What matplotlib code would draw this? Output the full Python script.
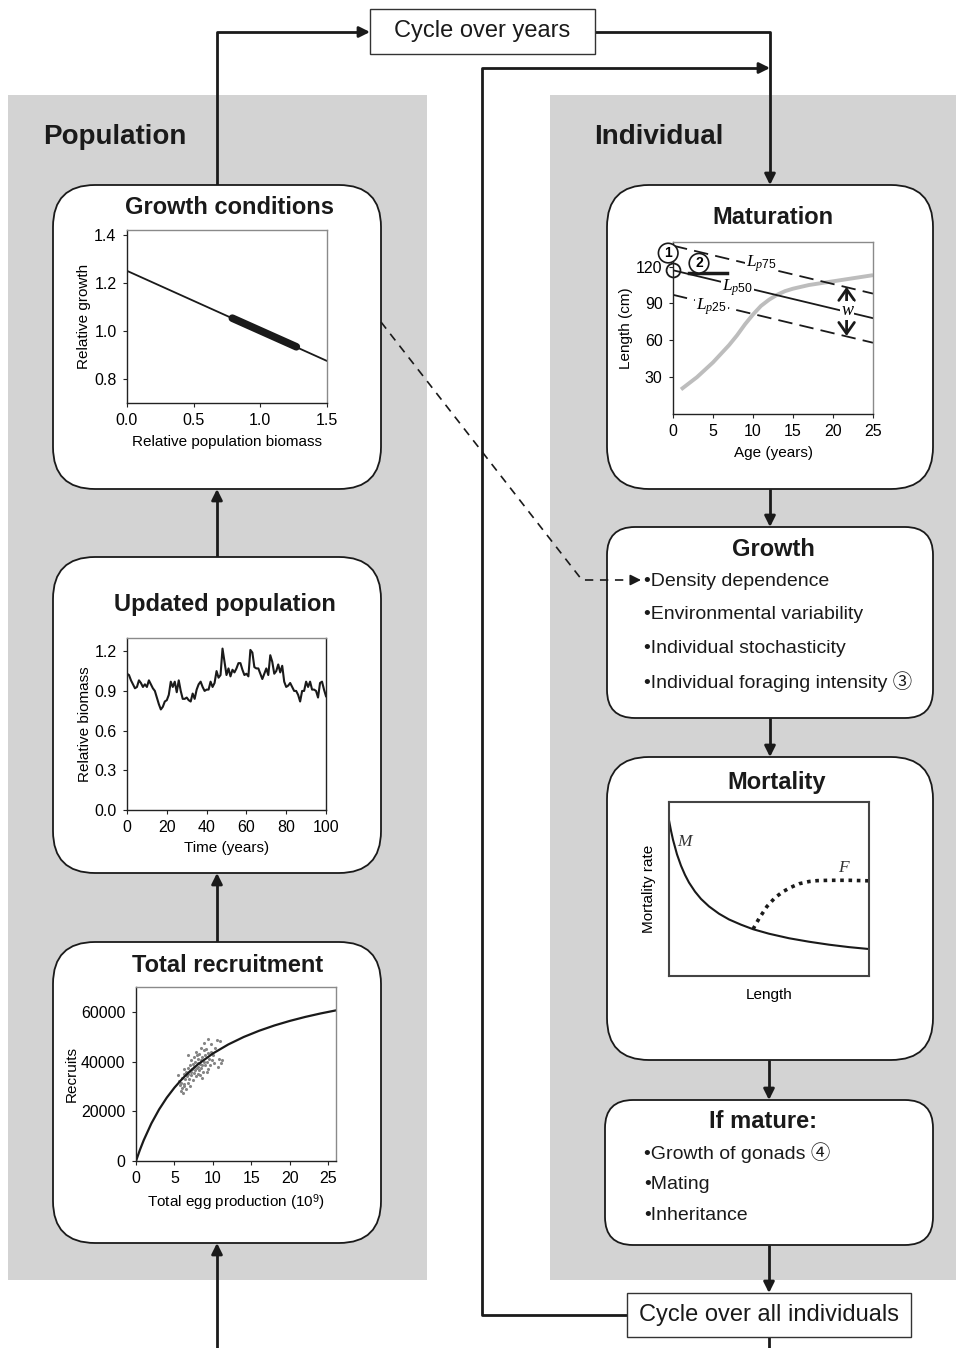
import numpy as np
import matplotlib
matplotlib.use('Agg')
import matplotlib.pyplot as plt
from matplotlib.patches import FancyBboxPatch, Rectangle

plt.rcParams['font.family'] = ['Liberation Sans', 'Noto Sans CJK SC', 'DejaVu Sans']
plt.rcParams['mathtext.fontset'] = 'custom'
plt.rcParams['mathtext.rm'] = 'Liberation Sans'
plt.rcParams['mathtext.it'] = 'Liberation Serif:italic'

# ---- data ----
# growth conditions
gc_biomass = [0.0, 1.5]
gc_growth = [1.25, 0.875]
gc_obs_biomass = [0.79, 1.27]
gc_obs_growth = [1.053, 0.934]

# updated population (relative biomass per year, 0..100)
biomass = [1.03, 1.02, 0.98, 0.95, 0.92, 0.93, 0.98, 0.96, 0.93, 0.95,
           0.93, 0.98, 0.95, 0.92, 0.90, 0.85, 0.80, 0.76, 0.78, 0.82,
           0.83, 0.87, 0.97, 0.93, 0.97, 0.89, 0.98, 0.90, 0.84, 0.84,
           0.85, 0.83, 0.82, 0.88, 0.84, 0.91, 0.95, 0.97, 0.93, 0.90,
           0.91, 0.91, 0.97, 0.93, 0.96, 1.05, 1.00, 1.02, 1.22, 1.12,
           1.02, 1.07, 1.01, 1.06, 1.04, 1.07, 1.11, 1.11, 1.06, 1.02,
           1.03, 1.01, 1.21, 1.19, 1.08, 1.07, 1.07, 1.03, 0.99, 1.03,
           1.07, 1.02, 1.17, 1.12, 1.03, 1.05, 1.10, 1.04, 1.09, 0.97,
           0.93, 0.94, 0.96, 0.93, 0.90, 0.90, 0.87, 0.82, 0.90, 0.90,
           0.97, 0.93, 0.97, 0.91, 0.91, 0.90, 0.85, 0.96, 0.97, 0.91,
           0.86]
years = np.arange(len(biomass))

# total recruitment curve
egg_curve = [0, 0.5, 1, 2, 3, 4, 5, 6, 7, 8, 10, 12, 14, 16, 18, 20, 22, 24, 26]
rec_curve = [0, 4400, 8340, 15120, 20740, 25480, 29520, 33020, 36070, 38750,
             43260, 46890, 49890, 52390, 54530, 56360, 57960, 59360, 60600]
# observed egg production / recruits
egg_obs = [5.4, 5.6, 5.7, 5.8, 5.9, 6.0, 6.0, 6.1, 6.2, 6.2, 6.3, 6.4, 6.5, 6.5,
           6.6, 6.7, 6.7, 6.8, 6.8, 6.9, 7.0, 7.0, 7.1, 7.2, 7.2, 7.3, 7.4, 7.4,
           7.5, 7.5, 7.6, 7.7, 7.7, 7.8, 7.8, 7.9, 8.0, 8.0, 8.1, 8.1, 8.2, 8.2,
           8.3, 8.3, 8.4, 8.5, 8.5, 8.6, 8.6, 8.7, 8.8, 8.8, 8.9, 9.0, 9.0, 9.1,
           9.2, 9.3, 9.3, 9.4, 9.5, 9.6, 9.7, 9.8, 9.9, 10.0, 10.2, 10.3, 10.5,
           10.6, 10.8, 10.9, 11.0, 11.2, 6.3, 7.9, 8.6, 9.2]
rec_obs = [34500, 32000, 30500, 28000, 31500, 29500, 33500, 27500, 30000, 35000,
           31000, 33000, 29000, 36000, 34000, 31500, 37500, 35000, 42500, 33000,
           38500, 30000, 36000, 40500, 34500, 37000, 32500, 39000, 35500, 42000,
           38000, 36500, 40000, 34000, 44000, 37500, 39500, 35000, 41000, 38000,
           36500, 43000, 39000, 34500, 40500, 37500, 45500, 42000, 38500, 36000,
           44500, 40000, 47500, 38500, 42500, 45000, 40000, 37000, 43500, 49200,
           41000, 38500, 44000, 47000, 40500, 42500, 39500, 45500, 48800, 38000,
           41000, 48400, 39500, 40500, 37000, 42500, 33500, 36000]

# maturation
age_line = [0, 25]
lp75 = [137, 98]
lp50 = [117, 78]
lp25 = [97, 58]
age_growth = [1, 2, 3, 4, 5, 6, 7, 8, 9, 10, 11, 12, 13, 14, 15, 17, 20, 25]
len_growth = [20, 25, 30, 36, 42, 49, 56, 64, 73, 81, 88, 93, 97, 100, 102, 105, 108, 113]

# mortality (arbitrary units)
m_len = [0, 0.01, 0.02, 0.04, 0.06, 0.08, 0.1, 0.13, 0.16, 0.2, 0.25, 0.3, 0.36, 0.42,
         0.5, 0.6, 0.7, 0.8, 0.9, 1.0]
m_rate = [0.895, 0.835, 0.783, 0.699, 0.634, 0.581, 0.537, 0.485, 0.443, 0.400,
          0.358, 0.325, 0.295, 0.269, 0.243, 0.217, 0.197, 0.180, 0.166, 0.155]
f_len = [0.42, 0.45, 0.49, 0.53, 0.57, 0.61, 0.65, 0.70, 0.74, 0.8, 0.9, 1.0]
f_rate = [0.269, 0.33, 0.40, 0.45, 0.485, 0.51, 0.53, 0.543, 0.548, 0.55, 0.55, 0.547]

growth_items = ['Density dependence', 'Environmental variability',
                'Individual stochasticity', 'Individual foraging intensity \u2462']
mature_items = ['Growth of gonads \u2463', 'Mating', 'Inheritance']

# ---- canvas ----
W, H = 956, 1348
fig = plt.figure(figsize=(W / 100, H / 100), dpi=100)
bg = fig.add_axes([0, 0, 1, 1])
bg.set_xlim(0, W)
bg.set_ylim(H, 0)
bg.axis('off')

GRAY = '#d3d3d3'
INK = '#1a1a1a'

bg.add_patch(Rectangle((8, 95), 419, 1185, fc=GRAY, ec='none', zorder=0))
bg.add_patch(Rectangle((550, 95), 406, 1185, fc=GRAY, ec='none', zorder=0))
bg.text(43, 137, 'Population', fontsize=20, fontweight='bold', va='center', color=INK)
bg.text(594, 137, 'Individual', fontsize=20, fontweight='bold', va='center', color=INK)


def box(x0, y0, x1, y1, r):
    bg.add_patch(FancyBboxPatch((x0, y0), x1 - x0, y1 - y0,
                                boxstyle=f'round,pad=0,rounding_size={r}',
                                fc='white', ec=INK, lw=1.3, zorder=2))


def arrow(pts, lw=2.0, ls='-', z=1):
    pts = [np.array(p, float) for p in pts]
    end, prev = pts[-1], pts[-2]
    d = (end - prev) / np.linalg.norm(end - prev)
    stop = end - d * 10
    line = pts[:-1] + [stop]
    xs = [p[0] for p in line]
    ys = [p[1] for p in line]
    bg.plot(xs, ys, color=INK, lw=lw, ls=ls, zorder=z, solid_capstyle='butt')
    bg.annotate('', xy=end, xytext=stop,
                arrowprops=dict(arrowstyle='-|>', color=INK, lw=lw,
                                mutation_scale=16, shrinkA=0, shrinkB=0), zorder=z + 2)


# flow arrows
arrow([(217, 185), (217, 32), (370, 32)])
arrow([(595, 32), (770, 32), (770, 185)])
arrow([(627, 1315), (482, 1315), (482, 68), (770, 68)])
arrow([(770, 489), (770, 527)])
arrow([(770, 718), (770, 757)])
arrow([(769, 1060), (769, 1100)])
arrow([(769, 1245), (769, 1293)])
bg.plot([769, 769], [1337, 1348], color=INK, lw=2.0, zorder=1)
arrow([(217, 1348), (217, 1243)])
arrow([(217, 942), (217, 873)])
arrow([(217, 557), (217, 489)])
arrow([(381, 322), (582, 580), (641, 580)], lw=1.2, ls=(0, (5, 4)), z=3)

# boxes
box(53, 185, 381, 489, 42)
box(53, 557, 381, 873, 42)
box(53, 942, 381, 1243, 42)
box(607, 185, 933, 489, 42)
box(607, 527, 933, 718, 28)
box(607, 757, 933, 1060, 42)
box(605, 1100, 933, 1245, 28)

bg.add_patch(Rectangle((370, 9), 225, 45, fc='white', ec='#333333', lw=1.0, zorder=2))
bg.text(482, 31, 'Cycle over years', fontsize=17, ha='center', va='center', color=INK, zorder=4)
bg.add_patch(Rectangle((627, 1293), 284, 44, fc='white', ec='#333333', lw=1.0, zorder=2))
bg.text(769, 1315, 'Cycle over all individuals', fontsize=17, ha='center', va='center',
        color=INK, zorder=4)

# titles
tkw = dict(fontsize=17, fontweight='bold', ha='center', va='center', color=INK, zorder=4)
bg.text(230, 207, 'Growth conditions', **tkw)
bg.text(225, 604, 'Updated population', **tkw)
bg.text(228, 966, 'Total recruitment', **tkw)
bg.text(773, 218, 'Maturation', **tkw)
bg.text(773, 550, 'Growth', **tkw)
bg.text(777, 782, 'Mortality', **tkw)
bg.text(763, 1122, 'If mature:', **tkw)

for i, item in enumerate(growth_items):
    bg.text(644, 581 + i * 33.7, '\u2022' + item, fontsize=14, va='center', color=INK, zorder=4)
for i, item in enumerate(mature_items):
    bg.text(644, 1153 + i * 31.5, '\u2022' + item, fontsize=14, va='center', color=INK, zorder=4)


def inset(l, t, r, b):
    return fig.add_axes([l / W, 1 - b / H, (r - l) / W, (b - t) / H])


def style(ax, light=('top', 'right')):
    for s in ax.spines.values():
        s.set_color('#222222')
        s.set_linewidth(1.0)
    for s in light:
        ax.spines[s].set_color('#8a8a8a')
    ax.tick_params(length=3, width=0.8, labelsize=11.5, color='#222222', pad=4.5)


# growth conditions panel
ax1 = inset(127, 230, 327, 403)
ax1.plot(gc_biomass, gc_growth, color=INK, lw=1.3)
ax1.plot(gc_obs_biomass, gc_obs_growth, color=INK, lw=5.5, solid_capstyle='round')
ax1.set_xlim(0, 1.5)
ax1.set_ylim(0.7, 1.42)
ax1.set_xticks([0, 0.5, 1.0, 1.5])
ax1.set_xticklabels(['0.0', '0.5', '1.0', '1.5'])
ax1.set_yticks([0.8, 1.0, 1.2, 1.4])
ax1.set_yticklabels(['0.8', '1.0', '1.2', '1.4'])
ax1.set_xlabel('Relative population biomass', fontsize=11, labelpad=5)
ax1.set_ylabel('Relative growth', fontsize=11, labelpad=2)
style(ax1)

# updated population panel
ax2 = inset(127, 638, 326, 810)
ax2.plot(years, biomass, color=INK, lw=1.5)
ax2.set_xlim(0, 100)
ax2.set_ylim(0, 1.3)
ax2.set_xticks([0, 20, 40, 60, 80, 100])
ax2.set_yticks([0, 0.3, 0.6, 0.9, 1.2])
ax2.set_yticklabels(['0.0', '0.3', '0.6', '0.9', '1.2'])
ax2.set_xlabel('Time (years)', fontsize=11, labelpad=4)
ax2.set_ylabel('Relative biomass', fontsize=11, labelpad=2)
style(ax2, light=('top',))

# total recruitment panel
ax3 = inset(136, 987, 336, 1161)
ax3.scatter(egg_obs, rec_obs, s=5, color='#858585', lw=0)
ax3.plot(egg_curve, rec_curve, color=INK, lw=1.6)
ax3.set_xlim(0, 26)
ax3.set_ylim(0, 70000)
ax3.set_xticks([0, 5, 10, 15, 20, 25])
ax3.set_yticks([0, 20000, 40000, 60000])
ax3.set_xlabel('Total egg production (10$^{9}$)', fontsize=11, labelpad=4)
ax3.set_ylabel('Recruits', fontsize=11, labelpad=2)
style(ax3)

# maturation panel
ax4 = inset(673, 242, 873, 414)
dash = (0, (8, 4))
ax4.plot(age_growth, len_growth, color='#bdbdbd', lw=2.8, solid_capstyle='butt')
ax4.plot(age_line, lp75, color=INK, lw=1.3, ls=dash)
ax4.plot(age_line, lp50, color=INK, lw=1.3)
ax4.plot(age_line, lp25, color=INK, lw=1.3, ls=dash)
ax4.plot([2.0, 6.7], [114.5, 114.5], color=INK, lw=2.5)
ax4.plot([0], [117], 'o', ms=10, mfc='none', mec=INK, mew=1.3, clip_on=False)
circ = dict(boxstyle='circle,pad=0.2', fc='white', ec=INK, lw=1.2)
ax4.text(-0.6, 131, '1', fontsize=10, fontweight='bold', ha='center', va='center',
         bbox=circ, clip_on=False, zorder=5)
ax4.text(3.25, 122.7, '2', fontsize=10, fontweight='bold', ha='center', va='center',
         bbox=circ, zorder=5)
lkw = dict(fontsize=12.5, ha='center', va='center', zorder=5,
           bbox=dict(boxstyle='square,pad=0.05', fc='white', ec='none'))
ax4.text(11.0, 122.7, r'$\mathit{L_{p75}}$', **lkw)
ax4.text(8.1, 103, r'$\mathit{L_{p50}}$', **lkw)
ax4.text(4.8, 87, r'$\mathit{L_{p25}}$', **lkw)
ax4.annotate('', xy=(21.7, 103.5), xytext=(21.7, 63.5),
             arrowprops=dict(arrowstyle='<->,head_length=0.5,head_width=0.35',
                             color=INK, lw=2.0, mutation_scale=16,
                             shrinkA=0, shrinkB=0))
ax4.text(21.8, 84.5, 'w', fontsize=13, family='Liberation Serif', style='italic',
         ha='center', va='center', zorder=5,
         bbox=dict(boxstyle='square,pad=0.05', fc='white', ec='none'))
ax4.set_xlim(0, 25)
ax4.set_ylim(0, 140)
ax4.set_xticks([0, 5, 10, 15, 20, 25])
ax4.set_yticks([30, 60, 90, 120])
ax4.set_xlabel('Age (years)', fontsize=11, labelpad=5)
ax4.set_ylabel('Length (cm)', fontsize=11, labelpad=2)
style(ax4)

# mortality panel
ax5 = inset(669, 802, 869, 976)
ax5.plot(m_len, m_rate, color=INK, lw=1.5)
ax5.plot(f_len, f_rate, color=INK, lw=2.6, ls=(0, (1, 1.3)))
ax5.text(0.078, 0.77, 'M', fontsize=12.5, family='Liberation Serif', style='italic',
         ha='center', va='center', color='#333333')
ax5.text(0.87, 0.62, 'F', fontsize=12.5, family='Liberation Serif', style='italic',
         ha='center', va='center', color='#333333')
ax5.set_xlim(0, 1)
ax5.set_ylim(0, 1)
ax5.set_xticks([])
ax5.set_yticks([])
for s in ax5.spines.values():
    s.set_color('#444444')
    s.set_linewidth(1.5)
ax5.set_xlabel('Length', fontsize=11, labelpad=9)
ax5.set_ylabel('Mortality rate', fontsize=11, labelpad=9)

fig.savefig('out.png', dpi=100)
